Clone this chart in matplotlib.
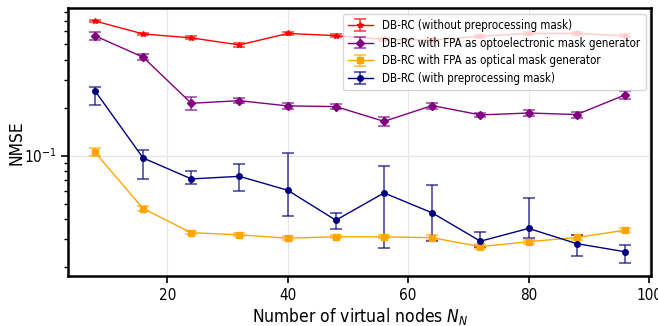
import numpy as np
import matplotlib
matplotlib.use("Agg")
import matplotlib.pyplot as plt

plt.rcParams['font.family'] = ['DejaVu Sans']
plt.rcParams['font.stretch'] = 'condensed'

# virtual nodes
nodes = [8, 16, 24, 32, 40, 48, 56, 64, 72, 80, 88, 96]

# DB-RC (without preprocessing mask)
red_y = [0.698, 0.579, 0.547, 0.494, 0.583, 0.565, 0.535, 0.530, 0.560, 0.583, 0.583, 0.564]
red_err = [0.012, 0.012, 0.012, 0.015, 0.015, 0.012, 0.012, 0.012, 0.012, 0.015, 0.012, 0.012]

# DB-RC with FPA as optoelectronic mask generator
pur_y = [0.564, 0.414, 0.213, 0.221, 0.205, 0.203, 0.164, 0.206, 0.180, 0.185, 0.181, 0.240]
pur_err = [0.030, 0.018, 0.020, 0.008, 0.009, 0.007, 0.010, 0.009, 0.006, 0.008, 0.008, 0.015]

# DB-RC with FPA as optical mask generator
ora_y = [0.105, 0.0466, 0.0329, 0.0319, 0.0304, 0.0310, 0.0310, 0.0306, 0.0269, 0.0289, 0.0307, 0.0341]
ora_err = [0.006, 0.0015, 0.0008, 0.0007, 0.0010, 0.0006, 0.0006, 0.0012, 0.0010, 0.0008, 0.0010, 0.0010]

# DB-RC (with preprocessing mask)
blu_y = [0.255, 0.0967, 0.0715, 0.0742, 0.0607, 0.0394, 0.0584, 0.0438, 0.0291, 0.0350, 0.0281, 0.0250]
blu_lo = [0.047, 0.0252, 0.0047, 0.0144, 0.0189, 0.0049, 0.0319, 0.0147, 0.0024, 0.0047, 0.0046, 0.0039]
blu_hi = [0.016, 0.0123, 0.0091, 0.0149, 0.0433, 0.0044, 0.0273, 0.0221, 0.0041, 0.0194, 0.0035, 0.0027]

fig = plt.figure(figsize=(6.58, 3.26), dpi=100)
ax = fig.add_axes([0.104, 0.152, 0.886, 0.823])

kw = dict(capsize=4, lw=1, elinewidth=1.2, capthick=1.2)
eb = ax.errorbar(nodes, red_y, yerr=red_err, color='red', marker='*', ms=4,
                 label='DB-RC (without preprocessing mask)', **kw)
eb2 = ax.errorbar(nodes, pur_y, yerr=pur_err, color='purple', marker='D', ms=4,
                  label='DB-RC with FPA as optoelectronic mask generator', **kw)
eb3 = ax.errorbar(nodes, ora_y, yerr=ora_err, color='orange', marker='s', ms=4,
                  label='DB-RC with FPA as optical mask generator', **kw)
eb4 = ax.errorbar(nodes, blu_y, yerr=[blu_lo, blu_hi], color='navy', marker='o', ms=4,
                  label='DB-RC (with preprocessing mask)', **kw)
for e in (eb, eb2, eb3, eb4):
    for c in e[1]:
        c.set_alpha(0.7)
    for b in e[2]:
        b.set_alpha(0.7)

ax.set_yscale('log')
ax.set_ylim(0.0175, 0.84)
ax.set_xlim(3.6, 100.4)
ax.grid(True, which='major', color='#e6e6e6', lw=0.8)
ax.set_axisbelow(True)

for s in ax.spines.values():
    s.set_linewidth(1.8)
ax.tick_params(which='major', length=5, width=1.2, labelsize=11)
ax.tick_params(which='minor', length=3, width=1.0, labelleft=False)

ax.set_xlabel('Number of virtual nodes $N_N$', fontsize=12.5, labelpad=2)
ax.set_ylabel('NMSE', fontsize=12.5)
ax.yaxis.set_label_coords(-0.074, 0.5)
ax.legend(loc='upper right', fontsize=8.3, handlelength=2.2, borderpad=0.45,
          labelspacing=0.4, handletextpad=0.8)

fig.savefig('out.png', dpi=100)
